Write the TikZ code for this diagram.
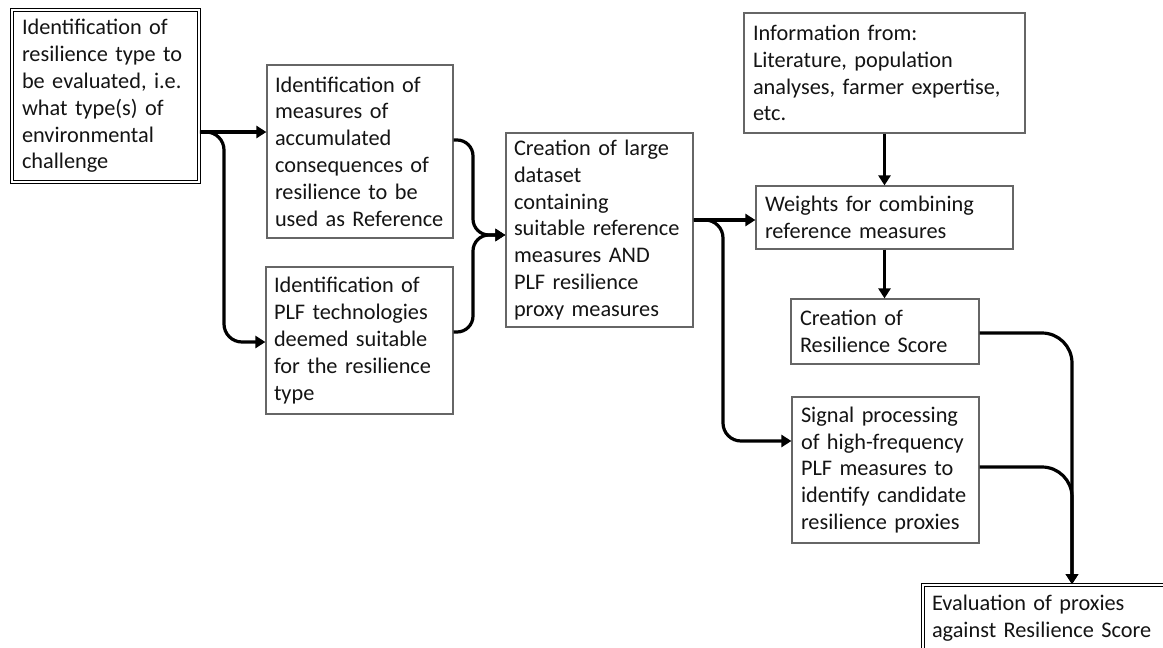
\documentclass[tikz,border=0pt]{standalone}
\usepackage{fontspec}
\setmainfont{Carlito}
\usetikzlibrary{arrows.meta}
\begin{document}
\begin{tikzpicture}[x=1pt,y=-1pt,
  box/.style={draw=black!60, line width=1.2pt, align=left, inner xsep=8pt, inner ysep=0pt,
    font=\fontsize{22.3}{26.8}\selectfont, text=black!92},
  dbox/.style={box, draw=black, double=white, double distance=1.3pt, line width=1.6pt},
  arr/.style={line width=3.2pt, -{Triangle[length=10pt,width=12pt]}, rounded corners=18pt}]
\useasboundingbox[fill=white] (0,0) rectangle (1163,648);

\node[dbox, minimum width=187pt, minimum height=172pt, text width=167pt, inner xsep=10pt] (A) at (105.5,96)
  {Identification of\\resilience type to\\be evaluated, i.e.\\what type(s) of\\environmental\\challenge};
\node[box, minimum width=186pt, minimum height=173pt, text width=170pt] (B) at (360,151.5)
  {Identification of\\measures of\\accumulated\\consequences of\\resilience to be\\used as Reference};
\node[box, minimum width=187pt, minimum height=147pt, text width=171pt] (C) at (359.5,340.5)
  {Identification of\\PLF technologies\\deemed suitable\\for the resilience\\type};
\node[box, minimum width=187pt, minimum height=194pt, text width=171pt] (D) at (599.5,230)
  {Creation of large\\dataset\\containing\\suitable reference\\measures AND\\PLF resilience\\proxy measures};
\node[box, minimum width=281pt, minimum height=120pt, text width=263pt, inner xsep=9pt] (E) at (884.5,73)
  {Information from:\\Literature, population\\analyses, farmer expertise,\\etc.};
\node[box, minimum width=257pt, minimum height=63pt, text width=239pt, inner xsep=9pt] (F) at (884.5,217.5)
  {Weights for combining\\reference measures};
\node[box, minimum width=188pt, minimum height=65pt, text width=170pt, inner xsep=9pt] (G) at (885,331.5)
  {Creation of\\Resilience Score};
\node[box, minimum width=187pt, minimum height=146pt, text width=169pt, inner xsep=9pt] (H) at (885.5,470)
  {Signal processing\\of high-frequency\\PLF measures to\\identify candidate\\resilience proxies};
\node[dbox, minimum width=249pt, minimum height=67pt, text width=231pt, inner xsep=9pt] (I) at (1047.5,618.5)
  {Evaluation of proxies\\against Resilience Score};

% connectors
\draw[arr] (A.east |- 0,132) -- (B.west |- 0,132);
\draw[arr] (A.east |- 0,132) -| (224,342) -- (C.west |- 0,342);
\draw[arr, rounded corners=16pt] (B.east |- 0,140) -| (473,235) -- (D.west |- 0,235);
\draw[arr, rounded corners=16pt] (C.east |- 0,332) -| (473,235) -- (D.west |- 0,235);
\draw[arr] (D.east |- 0,220) -- (F.west |- 0,220);
\draw[arr] (D.east |- 0,220) -| (723,441) -- (H.west |- 0,441);
\draw[arr] (E.south) -- (F.north);
\draw[arr] (F.south) -- (F.south |- G.north);
\draw[arr, rounded corners=30pt] (G.east |- 0,333) -| (1072,0 |- I.north);
\draw[arr, rounded corners=30pt] (H.east |- 0,467) -| (1072,0 |- I.north);
\end{tikzpicture}
\end{document}
